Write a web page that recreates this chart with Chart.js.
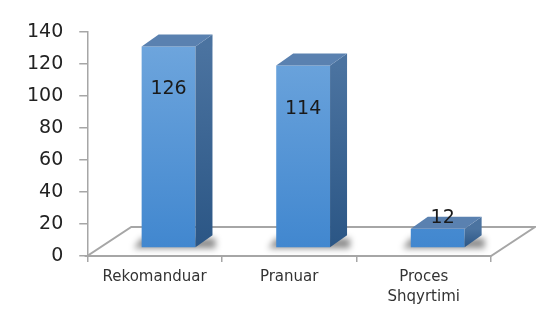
<!DOCTYPE html>
<html>
<head>
<meta charset="utf-8">
<script src="https://cdn.jsdelivr.net/npm/chart.js@4"></script>
<style>
  html, body { margin: 0; padding: 0; background: #fff; }
  #wrap { width: 536px; height: 309px; }
</style>
</head>
<body>
<div id="wrap"><canvas id="chart" width="536" height="309"></canvas></div>
<script>
// --- data ---
const categories = ['Rekomanduar', 'Pranuar', 'Proces Shqyrtimi'];
const values = [126, 114, 12];
const yMin = 0;
const yMax = 140;
const yStep = 20;

// --- 3d look ---
const DEPTH_X = 17;   // side face width
const DEPTH_Y = 12;   // top face height
const SHIFT_X = 14;   // bars sit half way into the floor
const SHIFT_Y = -8;
const FLOOR_X = 44;
const FLOOR_Y = 29;
const FONT = '"DejaVu Sans", sans-serif';

const bar3d = {
    id: 'bar3d',
    beforeDatasetsDraw(chart) {
        const { ctx, chartArea: a } = chart;
        ctx.save();
        // floor
        ctx.strokeStyle = '#a6a6a6';
        ctx.lineWidth = 2;
        ctx.beginPath();
        ctx.moveTo(a.left, a.bottom);
        ctx.lineTo(a.right, a.bottom);
        ctx.lineTo(a.right + FLOOR_X, a.bottom - FLOOR_Y);
        ctx.lineTo(a.left + FLOOR_X, a.bottom - FLOOR_Y);
        ctx.closePath();
        ctx.stroke();
        // soft shadows under the bars
        ctx.filter = 'blur(3px)';
        ctx.fillStyle = 'rgba(0, 0, 0, 0.45)';
        chart.getDatasetMeta(0).data.forEach(bar => {
            const { x, base, width } = bar.getProps(['x', 'base', 'width'], true);
            const l = x - width / 2 + SHIFT_X;
            const r = l + width;
            const b = base + SHIFT_Y;
            ctx.beginPath();
            ctx.moveTo(l - 8, b + 1);
            ctx.lineTo(r + DEPTH_X + 3, b + 1);
            ctx.lineTo(r + DEPTH_X + 3, b - DEPTH_Y + 3);
            ctx.lineTo(l, b - DEPTH_Y + 3);
            ctx.closePath();
            ctx.fill();
        });
        ctx.restore();
    },
    beforeDatasetDraw(chart) {
        chart.ctx.save();
        chart.ctx.translate(SHIFT_X, SHIFT_Y);
    },
    afterDatasetDraw(chart) {
        chart.ctx.restore();
    },
    afterDatasetsDraw(chart) {
        const { ctx } = chart;
        ctx.save();
        chart.getDatasetMeta(0).data.forEach((bar, i) => {
            const { x, y, base, width } = bar.getProps(['x', 'y', 'base', 'width'], true);
            const l = x - width / 2 + SHIFT_X;
            const r = l + width;
            const t = y + SHIFT_Y;
            const b = base + SHIFT_Y;

            // side face
            const side = ctx.createLinearGradient(0, t, 0, b);
            side.addColorStop(0, '#4b73a0');
            side.addColorStop(1, '#2b5685');
            ctx.fillStyle = side;
            ctx.beginPath();
            ctx.moveTo(r, t);
            ctx.lineTo(r + DEPTH_X, t - DEPTH_Y);
            ctx.lineTo(r + DEPTH_X, b - DEPTH_Y);
            ctx.lineTo(r, b);
            ctx.closePath();
            ctx.fill();

            // top face
            ctx.fillStyle = '#5a81b0';
            ctx.beginPath();
            ctx.moveTo(l, t);
            ctx.lineTo(l + DEPTH_X, t - DEPTH_Y);
            ctx.lineTo(r + DEPTH_X, t - DEPTH_Y);
            ctx.lineTo(r, t);
            ctx.closePath();
            ctx.fill();

            // value label
            ctx.font = '19px ' + FONT;
            ctx.fillStyle = '#1a1a1a';
            ctx.textAlign = 'center';
            ctx.textBaseline = 'middle';
            const cx = x + SHIFT_X;
            if (b - t > 60) {
                ctx.fillText(values[i], cx, t + 43);
            } else {
                ctx.fillText(values[i], cx + 5, t - 11);
            }
        });
        ctx.restore();
    }
};

new Chart(document.getElementById('chart'), {
    type: 'bar',
    data: {
        labels: categories,
        datasets: [{
            data: values,
            clip: false,
            borderWidth: 0,
            backgroundColor: (c) => {
                const a = c.chart.chartArea;
                if (!a) return '#5b9bd5';
                const g = c.chart.ctx.createLinearGradient(0, a.top, 0, a.bottom);
                g.addColorStop(0, '#72a8de');
                g.addColorStop(1, '#4187cf');
                return g;
            },
            categoryPercentage: 1,
            barPercentage: 0.4
        }]
    },
    options: {
        responsive: false,
        animation: false,
        layout: {
            padding: { left: 11, right: 45, top: 32, bottom: 0 }
        },
        scales: {
            x: {
                border: { display: false },
                grid: {
                    drawOnChartArea: false,
                    tickLength: 6,
                    color: '#a6a6a6',
                    lineWidth: 1.5
                },
                ticks: {
                    padding: 5,
                    color: '#333333',
                    font: { family: FONT, size: 15, lineHeight: 1.33 },
                    maxRotation: 0,
                    callback: (v, i) => categories[i].split(' ')
                },
                afterFit: (s) => { s.height = 53; }
            },
            y: {
                min: yMin,
                max: yMax,
                border: { display: true, color: '#a6a6a6', width: 1.5 },
                grid: {
                    drawOnChartArea: false,
                    tickLength: 8,
                    color: '#a6a6a6',
                    lineWidth: 1.5
                },
                ticks: {
                    stepSize: yStep,
                    padding: 16,
                    color: '#222222',
                    font: { family: FONT, size: 19 }
                }
            }
        },
        plugins: {
            legend: { display: false },
            tooltip: { enabled: false }
        }
    },
    plugins: [bar3d]
});
</script>
</body>
</html>
